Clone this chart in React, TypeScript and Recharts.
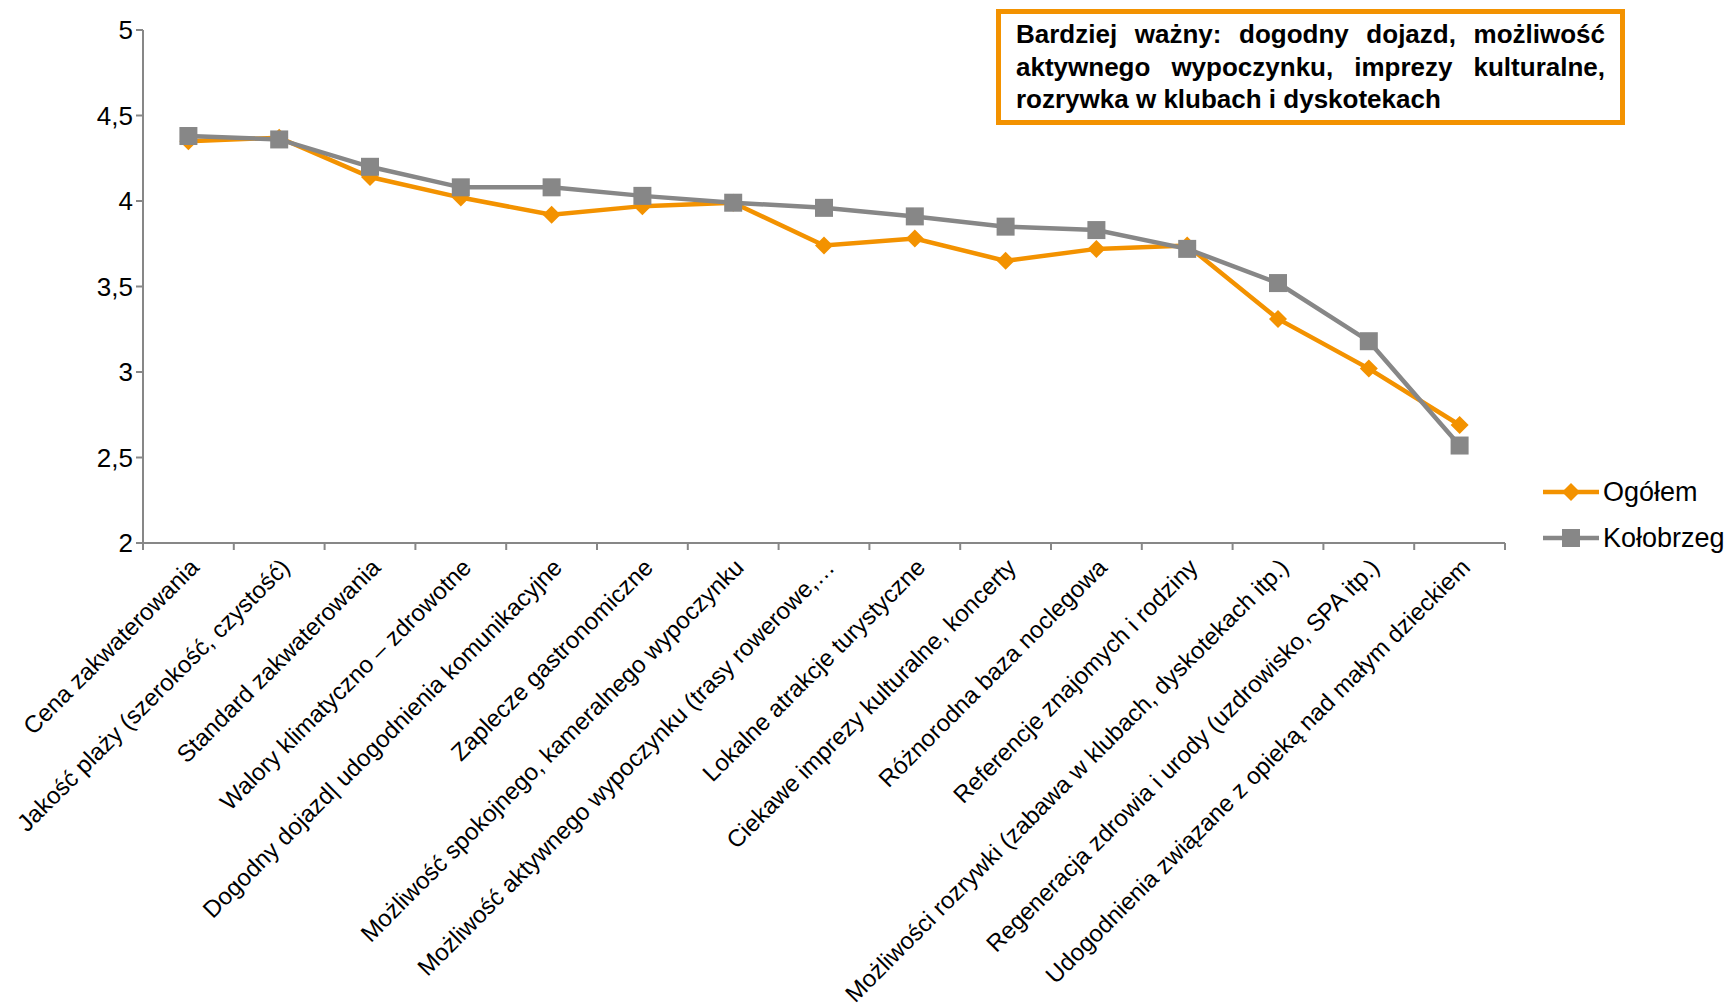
import { LineChart, Line, XAxis, YAxis, Legend } from "recharts";

const W = 1733;
const H = 1006;
const LEFT = 143;
const RIGHT = 228;
const TOP = 30;
const X_AXIS_H = 463;
const FONT = "'Liberation Sans', Arial, sans-serif";

const ORANGE = '#F39200';
const GRAY = '#878787';

const categories = [
    'Cena zakwaterowania',
    'Jakość plaży (szerokość, czystość)',
    'Standard zakwaterowania',
    'Walory klimatyczno – zdrowotne',
    'Dogodny dojazd| udogodnienia komunikacyjne',
    'Zaplecze gastronomiczne',
    'Możliwość spokojnego, kameralnego wypoczynku',
    'Możliwość aktywnego wypoczynku (trasy rowerowe,…',
    'Lokalne atrakcje turystyczne',
    'Ciekawe imprezy kulturalne, koncerty',
    'Różnorodna baza noclegowa',
    'Referencje znajomych i rodziny',
    'Możliwości rozrywki (zabawa w klubach, dyskotekach itp.)',
    'Regeneracja zdrowia i urody (uzdrowisko, SPA itp.)',
    'Udogodnienia związane z opieką nad małym dzieckiem',
];

const ogolem = [4.35, 4.37, 4.14, 4.02, 3.92, 3.97, 3.99, 3.74, 3.78, 3.65, 3.72, 3.74, 3.31, 3.02, 2.69];
const kolobrzeg = [4.38, 4.36, 4.2, 4.08, 4.08, 4.03, 3.99, 3.96, 3.91, 3.85, 3.83, 3.72, 3.52, 3.18, 2.57];

const yTicks = [2, 2.5, 3, 3.5, 4, 4.5, 5];

const seriesNames = ['Ogółem', 'Kołobrzeg'];

const noteLines = [
    'Bardziej ważny: dogodny dojazd, możliwość',
    'aktywnego wypoczynku, imprezy kulturalne,',
    'rozrywka w klubach i dyskotekach',
];

const data = categories.map((name, i) => ({ name, ogolem: ogolem[i], kolobrzeg: kolobrzeg[i] }));

const HALF = (W - LEFT - RIGHT) / categories.length / 2;

const Diamond = (props: any) => {
    const { cx, cy, index } = props;
    if (cx == null || cy == null) return <g key={index} />;
    const r = 9;
    return <polygon key={index} points={`${cx},${cy - r} ${cx + r},${cy} ${cx},${cy + r} ${cx - r},${cy}`} fill={ORANGE} />;
};

const Square = (props: any) => {
    const { cx, cy, index } = props;
    if (cx == null || cy == null) return <g key={index} />;
    const s = 9;
    return <rect key={index} x={cx - s} y={cy - s} width={s * 2} height={s * 2} fill={GRAY} />;
};

const CategoryTick = (props: any) => {
    const { x, y, payload, index } = props;
    const last = index === categories.length - 1;
    return (
        <g>
            <line x1={x - HALF} x2={x - HALF} y1={y} y2={y + 7} stroke={GRAY} strokeWidth={2} />
            {last && <line x1={x + HALF} x2={x + HALF} y1={y} y2={y + 7} stroke={GRAY} strokeWidth={2} />}
            <text
                x={x + 6}
                y={y + 20}
                transform={`rotate(-45, ${x + 6}, ${y + 20})`}
                textAnchor="end"
                dy="0.35em"
                fontSize={24}
                fontFamily={FONT}
                fill="#000"
            >
                {payload.value}
            </text>
        </g>
    );
};

const LegendContent = () => (
    <div style={{ fontFamily: FONT, fontSize: 27, color: '#000' }}>
        {seriesNames.map((name, i) => (
            <div key={name} style={{ display: 'flex', alignItems: 'center', height: 46 }}>
                <svg width={58} height={24} style={{ marginRight: 2 }}>
                    <line x1={0} x2={56} y1={12} y2={12} stroke={i === 0 ? ORANGE : GRAY} strokeWidth={4.5} />
                    {i === 0
                        ? <polygon points="28,3 37,12 28,21 19,12" fill={ORANGE} />
                        : <rect x={19} y={3} width={18} height={18} fill={GRAY} />}
                </svg>
                <span>{name}</span>
            </div>
        ))}
    </div>
);

export default function App() {
    return (
        <div style={{ position: 'absolute', left: 0, top: 0, width: W, height: H, background: '#fff' }}>
            <LineChart width={W} height={H} data={data} margin={{ top: TOP, right: RIGHT, left: 0, bottom: 0 }}>
                <XAxis
                    dataKey="name"
                    scale="band"
                    interval={0}
                    height={X_AXIS_H}
                    tickLine={false}
                    tickSize={0}
                    tickMargin={0}
                    tick={<CategoryTick />}
                    axisLine={{ stroke: GRAY, strokeWidth: 2 }}
                />
                <YAxis
                    width={LEFT}
                    domain={[2, 5]}
                    ticks={yTicks}
                    interval={0}
                    tickSize={7}
                    tickMargin={3}
                    tickFormatter={(v: number) => String(v).replace('.', ',')}
                    tick={{ fill: '#000', fontSize: 26, fontFamily: FONT }}
                    tickLine={{ stroke: GRAY, strokeWidth: 2 }}
                    axisLine={{ stroke: GRAY, strokeWidth: 2 }}
                />
                <Line
                    dataKey="ogolem"
                    name="Ogółem"
                    stroke={ORANGE}
                    strokeWidth={4.5}
                    dot={<Diamond />}
                    activeDot={false}
                    isAnimationActive={false}
                />
                <Line
                    dataKey="kolobrzeg"
                    name="Kołobrzeg"
                    stroke={GRAY}
                    strokeWidth={4.5}
                    dot={<Square />}
                    activeDot={false}
                    isAnimationActive={false}
                />
                <Legend
                    layout="horizontal"
                    verticalAlign="middle"
                    align="center"
                    content={<LegendContent />}
                    wrapperStyle={{ left: 1543, top: 469, width: 190 }}
                />
            </LineChart>
            <div
                style={{
                    position: 'absolute',
                    left: 996,
                    top: 9,
                    width: 629,
                    height: 116,
                    boxSizing: 'border-box',
                    border: `5px solid ${ORANGE}`,
                    padding: '4px 15px 0 15px',
                    fontFamily: FONT,
                    fontWeight: 'bold',
                    fontSize: 26,
                    lineHeight: '32.5px',
                    color: '#000',
                    background: '#fff',
                }}
            >
                {noteLines.map((line, i) => (
                    <div
                        key={i}
                        style={{ textAlign: 'justify', textAlignLast: i < noteLines.length - 1 ? 'justify' : 'left' }}
                    >
                        {line}
                    </div>
                ))}
            </div>
        </div>
    );
}
